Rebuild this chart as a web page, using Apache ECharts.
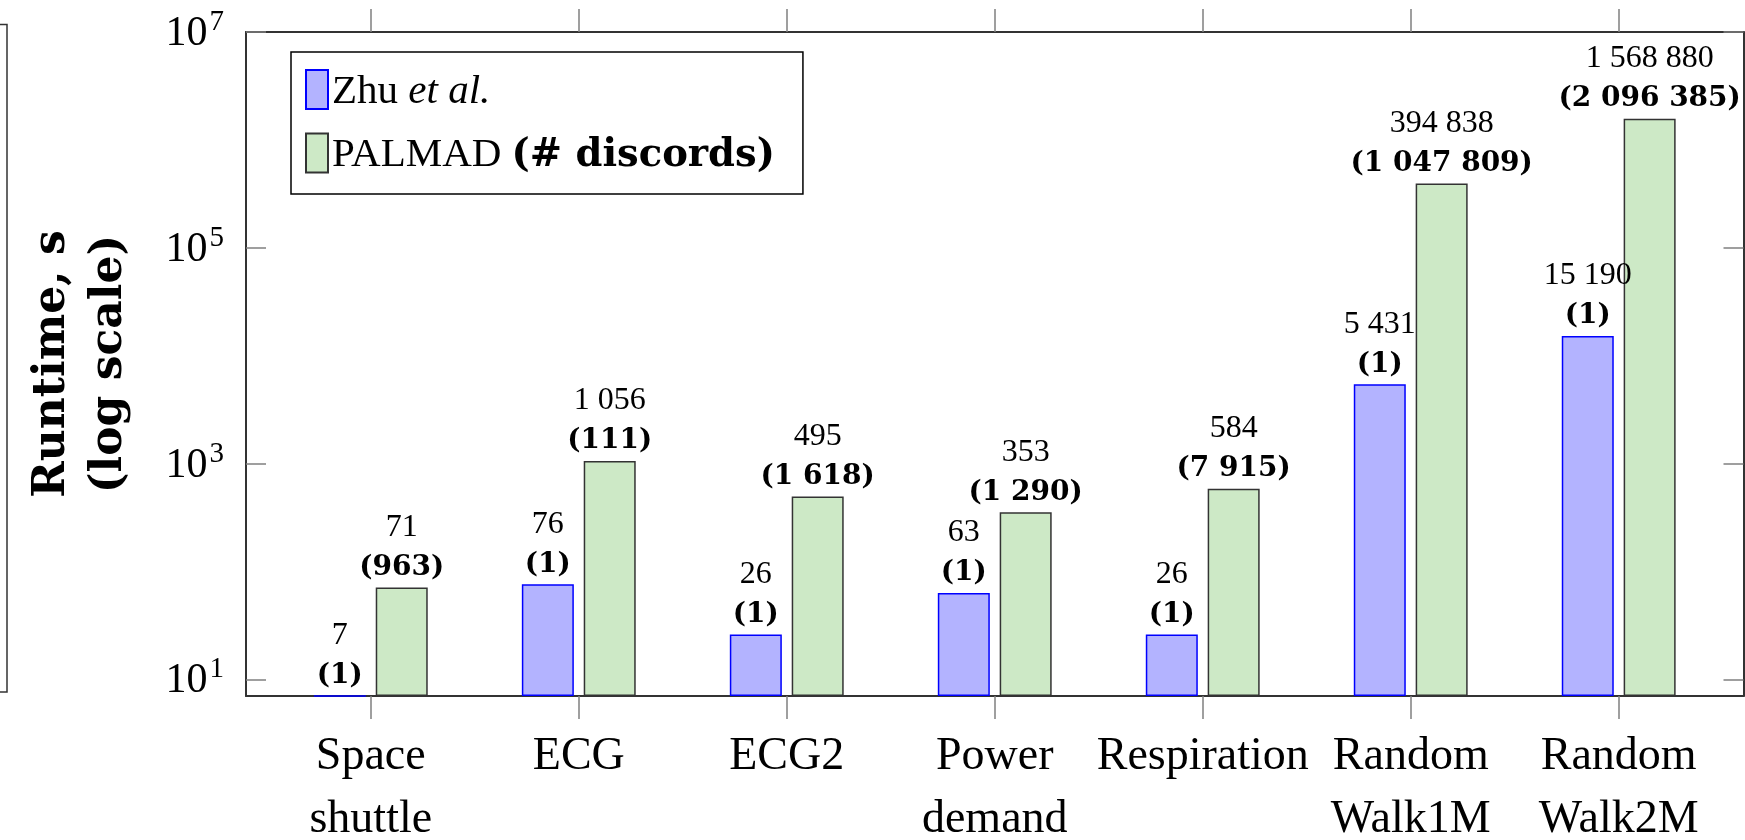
<!DOCTYPE html>
<html>
<head>
<meta charset="utf-8">
<script src="https://cdn.jsdelivr.net/npm/echarts@6/dist/echarts.min.js"></script>
<style>
  html, body { margin: 0; padding: 0; background: #fff; }
  #chart { width: 1745px; height: 840px; }
</style>
</head>
<body>
<div id="chart"></div>
<script>
// Data sets, in plot order along the x axis
const categories = ['Space\nshuttle', 'ECG', 'ECG2', 'Power\ndemand', 'Respiration', 'Random\nWalk1M', 'Random\nWalk2M'];
// Runtime in seconds
const zhuRuntime = [7, 76, 26, 63, 26, 5431, 15190];
const palmadRuntime = [71, 1056, 495, 353, 584, 394838, 1568880];
// Number of discords found
const zhuDiscords = [1, 1, 1, 1, 1, 1, 1];
const palmadDiscords = [963, 111, 1618, 1290, 7915, 1047809, 2096385];
// Labelled decades of the log axis
const yTicks = [10, 1000, 100000, 10000000];
const categoryTicks = [0, 1, 2, 3, 4, 5, 6];
// Ticks of the neighbouring panel's right axis
const neighbourTicks = [0, 1, 2, 3, 4, 5];

const seriesNames = ['Zhu et al.', 'PALMAD (# discords)'];
const legendText = {
  'Zhu et al.': 'Zhu {i|et al.}',
  'PALMAD (# discords)': 'PALMAD {b|(# discords)}'
};

const SERIF = '"Liberation Serif", "Times New Roman", serif';
const BOLD = '"DejaVu Serif", serif';
const AXIS = '#333';
const TICK = '#808080';

function groupDigits(v) {
  return String(v).replace(/\B(?=(\d{3})+(?!\d))/g, ' ');
}

function makeLabel(discords) {
  return {
    show: true,
    position: 'top',
    distance: 0,
    color: '#000',
    formatter: p => '{a|' + groupDigits(p.value[1]) + '}\n{b|(' + groupDigits(discords[p.value[0]]) + ')}',
    rich: {
      a: { fontFamily: SERIF, fontSize: 32, lineHeight: 40, color: '#000' },
      b: { fontFamily: BOLD, fontWeight: 'bold', fontSize: 28, lineHeight: 40, color: '#000' }
    }
  };
}

const chart = echarts.init(document.getElementById('chart'), null, { renderer: 'canvas' });

const xCommon = {
  type: 'value',
  min: -0.6,
  max: 6.6,
  gridIndex: 0,
  splitLine: { show: false },
  axisLine: { show: true, onZero: false, lineStyle: { color: AXIS, width: 2 } },
  axisTick: { show: true, inside: false, length: 23, customValues: categoryTicks, lineStyle: { color: TICK, width: 1.5 } }
};

const yCommon = {
  type: 'log',
  logBase: 10,
  min: 7,
  max: 10000000,
  startValue: 7,
  gridIndex: 0,
  splitLine: { show: false },
  minorTick: { show: false },
  axisLine: { show: true, onZero: false, lineStyle: { color: AXIS, width: 2 } },
  axisTick: { show: true, inside: true, length: 20, customValues: yTicks, lineStyle: { color: TICK, width: 1.5 } }
};

chart.setOption({
  animation: false,
  backgroundColor: '#fff',
  grid: [
    { left: 246, right: 1.5, top: 32, bottom: 144, containLabel: false, outerBoundsMode: 'none' },
    {
      left: -600, right: 1738, top: 24.5, bottom: 148, containLabel: false, outerBoundsMode: 'none',
      show: true, borderColor: AXIS, borderWidth: 1.5, backgroundColor: 'transparent'
    }
  ],
  legend: {
    data: seriesNames,
    orient: 'vertical',
    left: 291,
    top: 52,
    padding: [17, 28, 18, 14],
    backgroundColor: '#fff',
    borderColor: '#000',
    borderWidth: 1.5,
    borderRadius: 0,
    icon: 'rect',
    itemWidth: 22,
    itemHeight: 39,
    itemGap: 20,
    formatter: name => legendText[name],
    textStyle: {
      fontFamily: SERIF,
      fontSize: 41,
      lineHeight: 35,
      color: '#000',
      padding: [5, 0, 0, -1],
      rich: {
        i: { fontFamily: SERIF, fontStyle: 'italic', fontSize: 41, lineHeight: 35, color: '#000' },
        b: { fontFamily: BOLD, fontWeight: 'bold', fontSize: 38.5, lineHeight: 35, color: '#000' }
      }
    }
  },
  xAxis: [
    Object.assign({}, xCommon, {
      position: 'bottom',
      axisLabel: {
        show: true,
        customValues: categoryTicks,
        margin: 29,
        fontFamily: SERIF,
        fontSize: 46,
        lineHeight: 63,
        color: '#000',
        formatter: v => categories[Math.round(v)]
      }
    }),
    Object.assign({}, xCommon, {
      position: 'top',
      axisLabel: { show: false }
    }),
    { type: 'value', gridIndex: 1, min: 0, max: 1, show: false }
  ],
  yAxis: [
    Object.assign({}, yCommon, {
      position: 'left',
      name: 'Runtime, s\n(log scale)',
      nameLocation: 'middle',
      nameRotate: 90,
      nameGap: 108,
      nameTextStyle: { fontFamily: BOLD, fontWeight: 'bold', fontSize: 44, lineHeight: 57, color: '#000' },
      axisLabel: {
        show: true,
        customValues: yTicks,
        margin: 22,
        color: '#000',
        formatter: v => '{m|10}{s|' + Math.round(Math.log10(v)) + '}',
        rich: {
          m: { fontFamily: SERIF, fontSize: 42, color: '#000', verticalAlign: 'bottom', lineHeight: 46 },
          s: { fontFamily: SERIF, fontSize: 29, color: '#000', verticalAlign: 'bottom', lineHeight: 46, padding: [0, 0, 18, 2] }
        }
      }
    }),
    Object.assign({}, yCommon, {
      position: 'right',
      axisLabel: { show: false }
    }),
    {
      type: 'value', gridIndex: 1, position: 'right', min: -1.175, max: 5,
      splitLine: { show: false },
      axisLine: { show: false },
      axisLabel: { show: false },
      axisTick: { show: true, inside: true, length: 20, customValues: neighbourTicks, lineStyle: { color: TICK, width: 1.5 } }
    }
  ],
  series: [
    {
      name: seriesNames[0],
      type: 'bar',
      xAxisIndex: 0,
      yAxisIndex: 0,
      barWidth: 52,
      barGap: '19%',
      z: 3,
      itemStyle: { color: '#b3b3ff', borderColor: '#0000ff', borderWidth: 1.5 },
      label: makeLabel(zhuDiscords),
      data: zhuRuntime.map((v, i) => [i, v])
    },
    {
      name: seriesNames[1],
      type: 'bar',
      xAxisIndex: 0,
      yAxisIndex: 0,
      barWidth: 52,
      barGap: '19%',
      z: 3,
      itemStyle: { color: '#cde9c6', borderColor: '#333', borderWidth: 1.5 },
      label: makeLabel(palmadDiscords),
      data: palmadRuntime.map((v, i) => [i, v])
    }
  ]
});
</script>
</body>
</html>
